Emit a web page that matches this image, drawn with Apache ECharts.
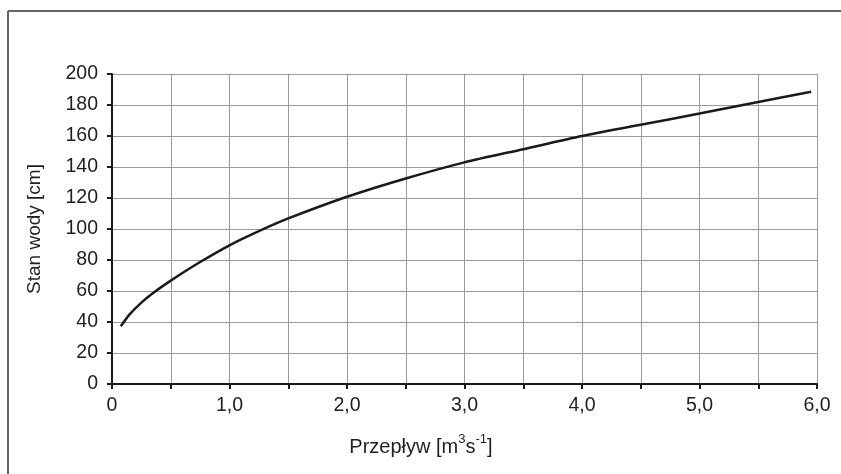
<!DOCTYPE html>
<html>
<head>
<meta charset="utf-8">
<script src="https://cdn.jsdelivr.net/npm/echarts@6/dist/echarts.min.js"></script>
<style>
html,body{margin:0;padding:0;background:#fff;}
#chart{width:841px;height:474px;}
</style>
</head>
<body>
<div id="chart"></div>
<script>
// Flow [m3/s] and water level [cm]
const flow  = [0.075, 0.15, 0.25, 0.35, 0.5, 0.75, 1.0, 1.25, 1.5, 2.0, 2.5, 3.0, 3.5, 4.0, 4.5, 5.0, 5.5, 5.95];
const level = [37.2, 44.9, 52.5, 58.7, 66.7, 78.7, 89.5, 98.6, 106.8, 120.8, 132.6, 143, 151.5, 160, 167.2, 174.5, 181.9, 188.5];
const xTicks = { min: 0, max: 6, step: 0.5 };
const yTicks = { min: 0, max: 200, step: 20 };
const xTitle = 'Przepływ';
const yTitle = 'Stan wody [cm]';

const FONT = "'Liberation Sans', Arial, sans-serif";
const chart = echarts.init(document.getElementById('chart'), null, {renderer: 'canvas'});
chart.setOption({
  animation: false,
  backgroundColor: '#fff',
  grid: { left: 112, right: 24, top: 74, bottom: 90, containLabel: false },
  graphic: [
    { type: 'line', shape: { x1: 8, y1: 11, x2: 8, y2: 474 }, style: { stroke: '#666', lineWidth: 2 } },
    { type: 'line', shape: { x1: 8, y1: 11, x2: 841, y2: 11 }, style: { stroke: '#666', lineWidth: 2 } }
  ],
  xAxis: {
    type: 'value', min: xTicks.min, max: xTicks.max, interval: xTicks.step,
    name: '{a|' + xTitle + ' [m}{s|3}{a|s}{s|-1}{a|]}',
    nameLocation: 'middle', nameGap: 49,
    nameTextStyle: {
      padding: [0, 87, 0, 0],
      rich: {
        a: { fontFamily: FONT, fontSize: 20, color: '#1e1e1e', lineHeight: 24, verticalAlign: 'bottom' },
        s: { fontFamily: FONT, fontSize: 13, color: '#1e1e1e', lineHeight: 24, verticalAlign: 'top' }
      }
    },
    axisLine: { show: true, onZero: false, lineStyle: { color: '#1a1a1a', width: 2 } },
    axisTick: { show: true, length: 5, inside: false, lineStyle: { color: '#1a1a1a', width: 2 } },
    axisLabel: {
      margin: 12, fontFamily: FONT, fontSize: 19.5, color: '#1e1e1e',
      formatter: v => (Math.abs(v - Math.round(v)) > 1e-9) ? '' : (v === 0 ? '0' : v.toFixed(1).replace('.', ','))
    },
    splitLine: { show: true, lineStyle: { color: '#999', width: 1 } }
  },
  yAxis: {
    type: 'value', min: yTicks.min, max: yTicks.max, interval: yTicks.step,
    name: yTitle, nameLocation: 'middle', nameGap: 68,
    nameTextStyle: { fontFamily: FONT, fontSize: 19, color: '#1e1e1e' },
    axisLine: { show: true, onZero: false, lineStyle: { color: '#1a1a1a', width: 2 } },
    axisTick: { show: true, length: 5, inside: false, lineStyle: { color: '#1a1a1a', width: 2 } },
    axisLabel: { margin: 14, fontFamily: FONT, fontSize: 19.5, color: '#1e1e1e' },
    splitLine: { show: true, lineStyle: { color: '#999', width: 1 } }
  },
  series: [{
    type: 'line',
    data: flow.map((x, i) => [x, level[i]]),
    smooth: 0.25,
    showSymbol: false,
    lineStyle: { color: '#1a1a1a', width: 2.5 }
  }]
});
</script>
</body>
</html>
